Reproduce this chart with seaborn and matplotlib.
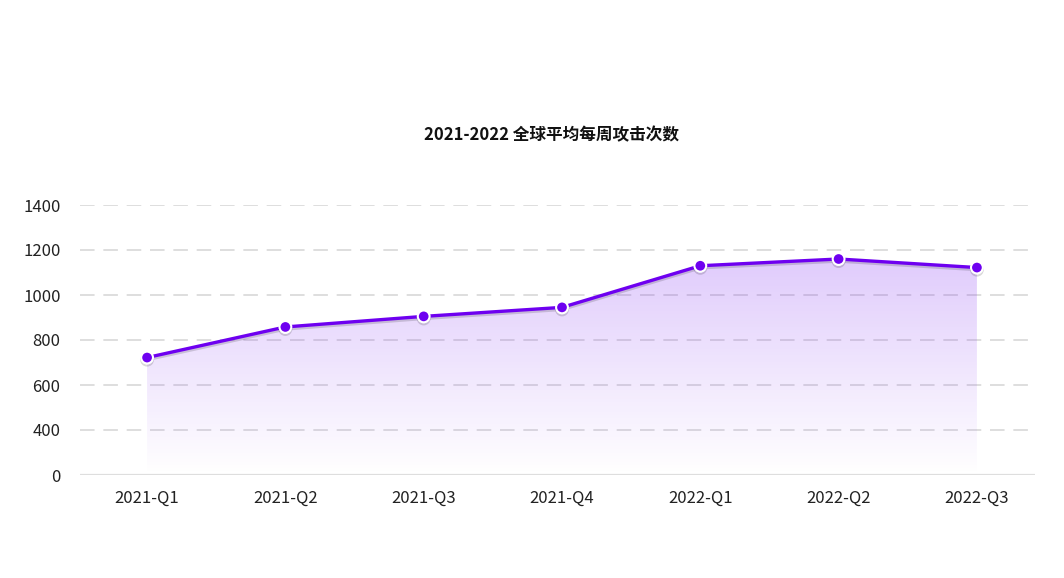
import numpy as np
import pandas as pd
import seaborn as sns
from matplotlib import pyplot as plt
from matplotlib import patheffects as pe
from matplotlib.colors import LinearSegmentedColormap

quarters = ["2021-Q1", "2021-Q2", "2021-Q3", "2021-Q4", "2022-Q1", "2022-Q2", "2022-Q3"]
attacks = [722, 858, 905, 945, 1130, 1160, 1122]
y_ticks = [0, 400, 600, 800, 1000, 1200, 1400]
title = "2021-2022 全球平均每周攻击次数"

purple = "#6e00f0"
grid_color = "#dedede"

sns.set_theme(style="white")
plt.rcParams["font.family"] = ["Noto Sans CJK SC", "DejaVu Sans"]


# the axis puts 0-400 into the same room as one 200 step
def forward(y):
    y = np.asarray(y, dtype=float)
    return np.where(y < 400, y / 2, y - 200)


def inverse(y):
    y = np.asarray(y, dtype=float)
    return np.where(y < 200, y * 2, y + 200)


df = pd.DataFrame({"quarter": quarters, "attacks": attacks})

fig = plt.figure(figsize=(10.64, 5.78), dpi=100)
ax = fig.add_axes([80 / 1064, 1 - 475 / 578, (1035 - 80) / 1064, (475 - 205) / 578])
ax.set_yscale("function", functions=(forward, inverse))

sns.lineplot(
    data=df,
    x="quarter",
    y="attacks",
    ax=ax,
    color=purple,
    linewidth=2.4,
    marker="o",
    markersize=8.5,
    markerfacecolor=purple,
    markeredgecolor="white",
    markeredgewidth=1.5,
    zorder=5,
)
line = ax.lines[0]
line.set_path_effects(
    [pe.SimpleLineShadow(offset=(0, -1.5), shadow_color="#000000", alpha=0.15), pe.Normal()]
)

# gradient fill under the line
xs = np.arange(len(quarters))
poly = ax.fill_between(xs, attacks, 0, color="none", linewidth=0)
cmap = LinearSegmentedColormap.from_list(
    "fade", [(0.55, 0.25, 0.96, 0.0), (0.55, 0.25, 0.96, 0.27)]
)
grad = np.linspace(0, 1, 256).reshape(-1, 1)
img = ax.imshow(
    grad,
    cmap=cmap,
    aspect="auto",
    origin="lower",
    extent=[0, 1, 0, 0.8],
    transform=ax.transAxes,
    zorder=2,
)
path = poly.get_paths()[0]
img.set_clip_path(path, transform=ax.transData)

ax.set_xlim(-0.485, 6.42)
ax.set_ylim(0, 1400)
ax.set_yticks(y_ticks)
ax.set_yticklabels([str(t) for t in y_ticks])
ax.yaxis.set_minor_locator(plt.NullLocator())

for t in y_ticks[1:]:
    ax.axhline(t, color=grid_color, linewidth=1.4, linestyle=(0, (7.5, 4.5)), zorder=1)
ax.axhline(0, color=grid_color, linewidth=1.6, zorder=1)

for side in ["top", "right", "left", "bottom"]:
    ax.spines[side].set_visible(False)

ax.tick_params(axis="y", length=0, pad=14, labelsize=12, labelcolor="#222222")
ax.tick_params(axis="x", length=0, pad=11, labelsize=12, labelcolor="#222222")
ax.set_xlabel("")
ax.set_ylabel("")

fig.text(551 / 1064, 1 - 135 / 578, title, ha="center", va="center",
         fontsize=12, fontweight="bold", color="#111111")

fig.savefig("out.png", dpi=100, facecolor="white")
